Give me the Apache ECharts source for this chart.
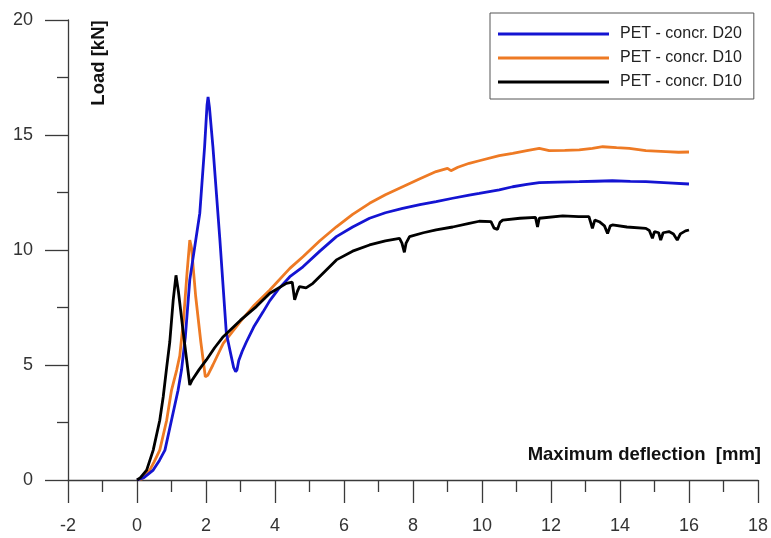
<!DOCTYPE html>
<html>
<head>
<meta charset="utf-8">
<script src="https://cdn.jsdelivr.net/npm/echarts@6/dist/echarts.min.js"></script>
<style>
html,body{margin:0;padding:0;background:#fff;}
#chart{width:771px;height:538px;}
</style>
</head>
<body>
<div id="chart"></div>
<script>
// ---- data ----
var seriesNames = ['PET - concr. D20', 'PET - concr. D10', 'PET - concr. D10'];
var xTicks = [-2, 0, 2, 4, 6, 8, 10, 12, 14, 16, 18];
var yTicks = [0, 5, 10, 15, 20];
var xAxisTitle = 'Maximum deflection  [mm]';
var yAxisTitle = 'Load [kN]';

var blueData = [[0,0],[0.2,0.1],[0.47,0.43],[0.65,0.85],[0.81,1.3],[1.0,2.6],[1.19,3.9],[1.29,4.78],[1.4,6.2],[1.53,8.7],[1.68,10.2],[1.82,11.6],[1.96,14.5],[2.03,16.3],[2.06,16.65],[2.1,16.2],[2.2,14.5],[2.4,10.5],[2.59,6.38],[2.7,5.6],[2.8,4.9],[2.86,4.71],[2.9,4.8],[2.95,5.2],[3.05,5.6],[3.17,6.0],[3.4,6.7],[3.65,7.3],[3.85,7.8],[4.1,8.3],[4.43,8.84],[4.81,9.27],[5.3,9.95],[5.78,10.58],[6.25,11.0],[6.74,11.38],[7.2,11.62],[7.7,11.81],[8.2,11.97],[8.67,12.1],[9.15,12.25],[9.63,12.39],[9.92,12.46],[10.5,12.61],[10.89,12.75],[11.3,12.85],[11.66,12.93],[12.2,12.95],[12.82,12.97],[13.3,12.99],[13.78,13.01],[14.3,12.98],[14.75,12.97],[15.4,12.92],[16.0,12.87]];

var orangeData = [[0,0],[0.15,0.05],[0.37,0.43],[0.5,0.8],[0.66,1.3],[0.86,2.6],[1.0,3.9],[1.15,4.78],[1.24,5.4],[1.35,7.0],[1.45,9.0],[1.53,10.43],[1.58,10.1],[1.7,8.0],[1.85,6.0],[1.98,4.49],[2.05,4.55],[2.2,5.0],[2.5,5.94],[3.0,6.9],[3.4,7.6],[3.85,8.26],[4.43,9.2],[4.81,9.71],[5.3,10.4],[5.78,11.01],[6.25,11.55],[6.74,12.03],[7.2,12.4],[7.7,12.75],[8.2,13.1],[8.67,13.41],[9.0,13.55],[9.1,13.45],[9.3,13.6],[9.63,13.77],[9.92,13.88],[10.5,14.1],[10.89,14.2],[11.3,14.32],[11.66,14.42],[11.95,14.32],[12.4,14.33],[12.82,14.35],[13.2,14.42],[13.5,14.49],[13.9,14.45],[14.27,14.42],[14.75,14.32],[15.33,14.28],[15.7,14.25],[16.0,14.26]];

var blackData = [[0,0],[0.1,0.1],[0.28,0.43],[0.47,1.3],[0.66,2.6],[0.76,3.62],[0.86,4.9],[0.95,6.0],[1.05,7.83],[1.13,8.9],[1.2,8.2],[1.35,6.3],[1.53,4.13],[1.6,4.35],[1.8,4.8],[2.01,5.22],[2.25,5.75],[2.5,6.23],[3.0,6.95],[3.46,7.54],[3.85,8.12],[4.33,8.55],[4.5,8.6],[4.57,7.83],[4.65,8.2],[4.71,8.41],[4.9,8.35],[5.1,8.55],[5.4,9.0],[5.78,9.57],[6.25,9.95],[6.74,10.22],[7.2,10.4],[7.61,10.51],[7.68,10.3],[7.75,9.9],[7.8,10.3],[7.9,10.58],[8.3,10.75],[8.67,10.87],[9.15,11.0],[9.63,11.16],[9.92,11.25],[10.26,11.23],[10.35,10.95],[10.45,10.9],[10.52,11.2],[10.6,11.3],[11.1,11.38],[11.55,11.42],[11.61,11.0],[11.66,11.38],[12.34,11.48],[12.8,11.45],[13.1,11.45],[13.15,11.2],[13.2,10.94],[13.27,11.3],[13.4,11.23],[13.55,11.05],[13.64,10.72],[13.72,11.05],[13.78,11.09],[14.2,11.0],[14.75,10.94],[14.85,10.85],[14.94,10.51],[15.0,10.8],[15.12,10.75],[15.18,10.43],[15.25,10.75],[15.42,10.8],[15.55,10.7],[15.66,10.43],[15.75,10.7],[15.9,10.83],[16.0,10.87]];

var colors = ['#1414d2', '#ee7a24', '#000000'];

// ---- chart ----
var FONT = '"Liberation Sans", Arial, sans-serif';
var chart = echarts.init(document.getElementById('chart'), null, {renderer: 'canvas'});
var axisCol = '#3a3a3a';
var option = {
  animation: false,
  backgroundColor: '#ffffff',
  grid: {left: 68, right: 12, top: 20, bottom: 58, containLabel: false},
  xAxis: {
    type: 'value',
    min: xTicks[0], max: xTicks[xTicks.length - 1], interval: 2,
    axisLine: {show: true, onZero: false, lineStyle: {color: axisCol, width: 1.3}},
    axisTick: {show: true, inside: false, length: 23, lineStyle: {color: axisCol, width: 1.3}},
    minorTick: {show: true, splitNumber: 2, length: 12, lineStyle: {color: axisCol, width: 1.3}},
    splitLine: {show: false},
    axisLabel: {margin: 37, fontSize: 18, fontFamily: FONT, color: '#333'}
  },
  yAxis: {
    type: 'value',
    min: yTicks[0], max: yTicks[yTicks.length - 1], interval: 5,
    axisLine: {show: true, onZero: false, lineStyle: {color: axisCol, width: 1.3}},
    axisTick: {show: true, inside: false, length: 23, lineStyle: {color: axisCol, width: 1.3}},
    minorTick: {show: true, splitNumber: 2, length: 11, lineStyle: {color: axisCol, width: 1.3}},
    splitLine: {show: false},
    axisLabel: {margin: 35, fontSize: 18, fontFamily: FONT, color: '#333'}
  },
  legend: {
    show: true,
    orient: 'vertical',
    left: 490, top: 13,
    padding: [13, 12, 9, 8],
    borderColor: '#555', borderWidth: 1,
    icon: 'rect', itemWidth: 111, itemHeight: 3, itemGap: 8,
    textStyle: {fontSize: 16, fontFamily: FONT, color: '#222', lineHeight: 16, padding: [0, 0, 0, 6]},
    data: [
      {name: 'PET - concr. D20'},
      {name: 'PET - concr. D10'},
      {name: 'PET - concr. D10 '}
    ],
    formatter: function (n) { return n.trim(); },
    selectedMode: false
  },
  graphic: [
    {type: 'text', x: 99, y: 63, rotation: Math.PI / 2,
      style: {text: yAxisTitle, font: 'bold 18.5px ' + FONT, fill: '#111', align: 'center', verticalAlign: 'middle'}},
    {type: 'text', x: 761, y: 455,
      style: {text: xAxisTitle, font: 'bold 18.5px ' + FONT, fill: '#111', align: 'right', verticalAlign: 'middle'}}
  ],
  series: [
    {name: 'PET - concr. D20', type: 'line', data: blueData, symbol: 'none', smooth: false,
      lineStyle: {color: colors[0], width: 2.8}, itemStyle: {color: colors[0]}, z: 3},
    {name: 'PET - concr. D10', type: 'line', data: orangeData, symbol: 'none', smooth: false,
      lineStyle: {color: colors[1], width: 2.8}, itemStyle: {color: colors[1]}, z: 2},
    {name: 'PET - concr. D10 ', type: 'line', data: blackData, symbol: 'none', smooth: false,
      lineStyle: {color: colors[2], width: 2.8}, itemStyle: {color: colors[2]}, z: 4}
  ]
};
chart.setOption(option);
</script>
</body>
</html>
